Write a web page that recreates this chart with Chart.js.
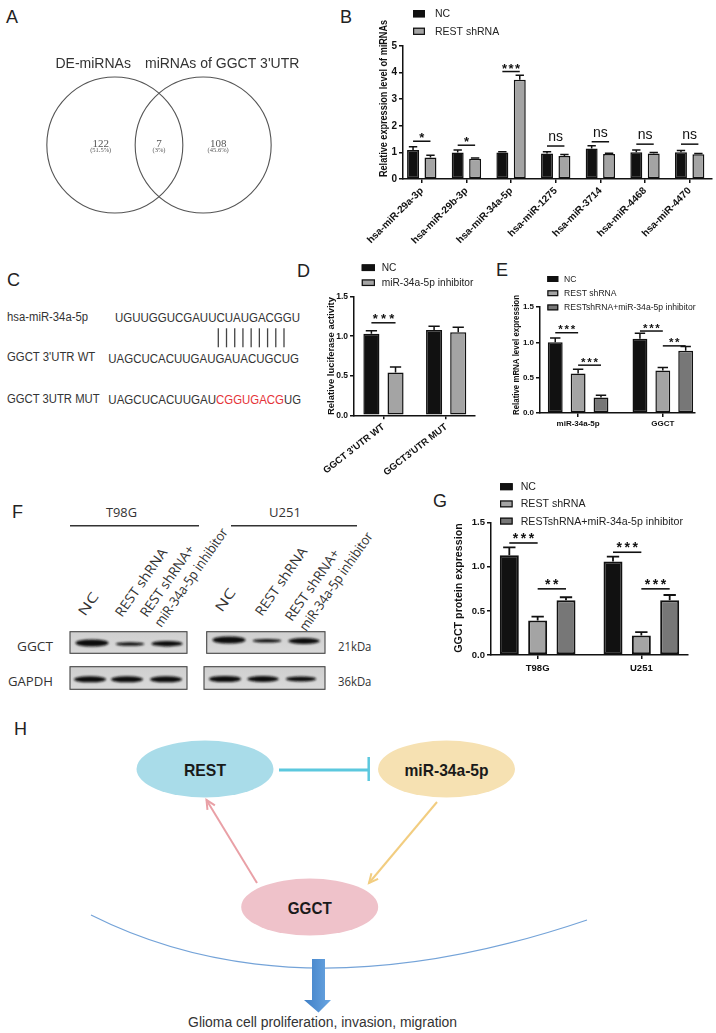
<!DOCTYPE html>
<html><head><meta charset="utf-8">
<script src="https://cdn.jsdelivr.net/npm/chart.js@4.4.1/dist/chart.umd.min.js"></script>
<style>
html,body{margin:0;padding:0;background:#fff}
#page{position:relative;width:716px;height:1033px;overflow:hidden;background:#fff}
canvas{position:absolute}
#ov{position:absolute;left:0;top:0}
</style></head><body>
<div id="page">
<svg id="ov" width="716" height="1033" xmlns="http://www.w3.org/2000/svg"></svg>
<canvas id="cA" width="318" height="210" style="left:0;top:40px"></canvas>
<canvas id="cB" width="376" height="260" style="left:340px;top:0"></canvas>
<canvas id="cD" width="190" height="230" style="left:290px;top:250px"></canvas>
<canvas id="cE" width="256" height="180" style="left:460px;top:250px"></canvas>
<canvas id="cG" width="356" height="220" style="left:360px;top:480px"></canvas>
</div>
<script>
// ================= DATA =================
// Panel A (Venn)
const vennSets = ["DE-miRNAs", "miRNAs of GGCT 3'UTR"];
const vennCounts = [122, 7, 108];
const vennPercents = ["(51.5%)", "(3%)", "(45.6%)"];

// Panel B
const miRNAs = ["hsa-miR-29a-3p","hsa-miR-29b-3p","hsa-miR-34a-5p","hsa-miR-1275","hsa-miR-3714","hsa-miR-4468","hsa-miR-4470"];
const seriesB = ["NC","REST shRNA"];
const ncExpr     = [1.09, 1.00, 1.00, 0.96, 1.15, 1.01, 1.01];
const ncExprErr  = [0.12, 0.09, 0.02, 0.06, 0.10, 0.08, 0.06];
const shExpr     = [0.81, 0.76, 3.73, 0.86, 0.94, 0.96, 0.93];
const shExprErr  = [0.08, 0.03, 0.17, 0.06, 0.03, 0.04, 0.03];
const sigExpr      = ["*","*","***","ns","ns","ns","ns"];
const sigExprLevel = [1.42, 1.27, 4.04, 1.24, 1.40, 1.31, 1.31];
const exprTicks = [0,1,2,3,4,5];

// Panel C
const seqNames = ["hsa-miR-34a-5p","GGCT 3'UTR WT","GGCT 3UTR MUT"];
const seqMiR = "UGUUGGUCGAUUCUAUGACGGU";
const seqWT  = "UAGCUCACUUGAUGAUACUGCUG";
const seqMUT = ["UAGCUCACUUGAU","CGGUGACG","UG"];
const pairCount = 9;

// Panel D
const lucGroups = ["GGCT 3'UTR WT","GGCT3'UTR MUT"];
const seriesD = ["NC","miR-34a-5p inhibitor"];
const lucNC = [1.03, 1.08];  const lucNCErr = [0.04, 0.045];
const lucInh = [0.54, 1.05]; const lucInhErr = [0.07, 0.065];
const sigLuc = [[0,0,1,1.17,"***"]];
const lucTicks = [0,0.5,1,1.5];

// Panel E
const mrnaGroups = ["miR-34a-5p","GGCT"];
const seriesE = ["NC","REST shRNA","RESTshRNA+miR-34a-5p inhibitor"];
const mrnaNC = [1.00, 1.05];   const mrnaNCErr = [0.06, 0.08];
const mrnaSh = [0.56, 0.60];   const mrnaShErr = [0.06, 0.045];
const mrnaCombo = [0.22, 0.88];const mrnaComboErr = [0.03, 0.06];
const sigMrna = [[0,0,1,1.136,"***"],[0,1,2,0.677,"***"],[1,0,1,1.16,"***"],[1,1,2,0.95,"**"]];
const mrnaTicks = [0,0.5,1,1.5];

// Panel F (western blot band intensities, relative)
const blotCells = ["T98G","U251"];
const blotLanes = ["NC","REST shRNA","REST shRNA+","miR-34a-5p inhibitor"];
const blotProteins = ["GGCT","GAPDH"];
const blotKDa = ["21kDa","36kDa"];
const ggctBand  = [[1.0, 0.5, 0.8],[1.0, 0.5, 0.85]];
const gapdhBand = [[0.9, 0.9, 0.9],[0.9, 0.85, 0.7]];

// Panel G
const protGroups = ["T98G","U251"];
const seriesG = ["NC","REST shRNA","RESTshRNA+miR-34a-5p inhibitor"];
const protNC = [1.13, 1.06];    const protNCErr = [0.09, 0.055];
const protSh = [0.39, 0.22];    const protShErr = [0.045, 0.04];
const protCombo = [0.62, 0.62]; const protComboErr = [0.035, 0.06];
const sigProt = [[0,0,1,1.27,"***"],[0,1,2,0.75,"**"],[1,0,1,1.165,"***"],[1,1,2,0.75,"***"]];
const protTicks = [0,0.5,1,1.5];

// Panel H
const hNodes = ["REST","miR-34a-5p","GGCT"];
const hOutcome = "Glioma cell proliferation, invasion, migration";

// ================= STYLE =================
const FONT = 'Arial, "Liberation Sans", Helvetica, sans-serif';
const C_NC = '#111111', C_SH = '#a4a4a4', C_CB = '#777777';

class PadCat extends Chart.CategoryScale {
  static id = 'padcat';
  static defaults = {};
  configure(){
    super.configure();
    const o = this.options;
    if (typeof o.padStart === 'number') {
      this._startValue = this.min - o.padStart;
      this._valueRange = (this.max - this.min) + o.padStart + o.padEnd;
    }
  }
}
Chart.register(PadCat);

function drawSig(ctx, txt, x, y, o){
  ctx.fillStyle = '#111';
  ctx.textAlign = 'center'; ctx.textBaseline = 'alphabetic';
  if (/^\*+$/.test(txt)) {
    ctx.font = `bold ${o.sfs}px ${FONT}`;
    const n = txt.length;
    for (let k=0;k<n;k++) ctx.fillText('*', x + (k-(n-1)/2)*o.ssp, y + o.sdy);
  } else {
    ctx.font = `${o.nfs}px ${FONT}`;
    ctx.fillText(txt, x, y + o.ndy);
  }
}

const annotPlugin = {
  id:'annot',
  afterDatasetsDraw(chart, args, o){
    const ctx = chart.ctx, ys = chart.scales.y;
    ctx.save();
    chart.data.datasets.forEach((ds,i)=>{
      const meta = chart.getDatasetMeta(i);
      meta.data.forEach((bar,j)=>{
        const v = ds.data[j], e = ds.err[j];
        const y0 = ys.getPixelForValue(v), y1 = ys.getPixelForValue(v+e);
        const hw = bar.width*o.cap/2;
        ctx.strokeStyle = '#111'; ctx.lineWidth = o.elw;
        ctx.beginPath();
        ctx.moveTo(bar.x, y0); ctx.lineTo(bar.x, y1);
        ctx.moveTo(bar.x-hw, y1); ctx.lineTo(bar.x+hw, y1);
        ctx.stroke();
      });
    });
    o.sig.forEach(s=>{
      const cat=s[0], a=s[1], b=s[2], val=s[3], txt=s[4];
      const xa = chart.getDatasetMeta(a).data[cat].x, xb = chart.getDatasetMeta(b).data[cat].x;
      const y = ys.getPixelForValue(val);
      ctx.strokeStyle = '#111'; ctx.lineWidth = o.slw;
      ctx.beginPath(); ctx.moveTo(xa, y); ctx.lineTo(xb, y); ctx.stroke();
      drawSig(ctx, txt, (xa+xb)/2, y, o);
    });
    const L = o.legend;
    ctx.font = `${L.fs}px ${FONT}`; ctx.textAlign='left'; ctx.textBaseline='middle';
    chart.data.datasets.forEach((ds,i)=>{
      const y = L.y + i*L.dy;
      ctx.fillStyle = ds.backgroundColor; ctx.fillRect(L.x, y-L.h/2, L.w, L.h);
      ctx.strokeStyle = '#111'; ctx.lineWidth = 1.2;
      ctx.strokeRect(L.x+0.6, y-L.h/2+0.6, L.w-1.2, L.h-1.2);
      ctx.fillStyle = '#222'; ctx.fillText(ds.label, L.tx, y+0.5);
    });
    const T = o.title;
    ctx.translate(T.x, T.y); ctx.rotate(-Math.PI/2);
    ctx.font = `bold ${T.fs}px ${FONT}`; ctx.fillStyle='#111';
    ctx.textAlign='center'; ctx.textBaseline='middle';
    ctx.fillText(T.text, 0, 0, T.len);
    ctx.restore();
  }
};

function barChart(id, cfg){
  const datasets = cfg.series.map(s=>({
    label:s.label, data:s.data, err:s.err, backgroundColor:s.color,
    borderColor:'#111', borderWidth:cfg.bw, borderSkipped:false,
    barPercentage:cfg.barPct, categoryPercentage:cfg.catPct
  }));
  return new Chart(document.getElementById(id), {
    type:'bar',
    data:{labels:cfg.labels, datasets},
    options:{
      responsive:false, animation:false, devicePixelRatio:1, events:[],
      layout:{padding:{left:0,right:cfg.pr,top:cfg.pt,bottom:0}},
      plugins:{legend:{display:false}, tooltip:{enabled:false}, annot:cfg.annot},
      scales:{
        x:{type:'padcat', padStart:cfg.ps, padEnd:cfg.pe,
           grid:{display:true, drawOnChartArea:false, drawTicks:true, tickLength:4, offset:false, color:'#111', lineWidth:1.5},
           border:{color:'#111', width:1.5},
           ticks:{color:'#111', font:{family:FONT, size:cfg.xfs, weight:'bold'}, minRotation:cfg.rot, maxRotation:cfg.rot, padding:cfg.xpad, autoSkip:false},
           afterFit(s){ s.height = cfg.xh; }},
        y:{min:0, max:cfg.ymax,
           afterBuildTicks(s){ s.ticks = cfg.yticks.map(v=>({value:v})); },
           ticks:{color:'#111', font:{family:FONT, size:cfg.yfs, weight:'bold'}, padding:2, callback:(v)=>cfg.yfmt(v)},
           grid:{display:true, drawOnChartArea:false, drawTicks:true, tickLength:4, color:'#111', lineWidth:1.5},
           border:{color:'#111', width:1.5},
           afterFit(s){ s.width = cfg.yw; }}
      }
    },
    plugins:[annotPlugin]
  });
}

barChart('cB', {
  labels:miRNAs,
  series:[{label:seriesB[0], data:ncExpr, err:ncExprErr, color:C_NC},
          {label:seriesB[1], data:shExpr, err:shExprErr, color:C_SH}],
  bw:1.5, barPct:0.686, catPct:0.78, pr:4, pt:46, yw:63, xh:81, ps:0.42, pe:0.5,
  rot:45, xfs:10, xpad:2, yfs:10, ymax:5, yticks:exprTicks, yfmt:v=>String(v),
  annot:{cap:0.7, elw:1.5, slw:1.5,
    sig: sigExpr.map((t,i)=>[i,0,1,sigExprLevel[i],t]),
    sfs:13, ssp:6.5, sdy:1, nfs:14, ndy:-5,
    legend:{x:73, y:13.7, dy:17.6, w:12, h:7.3, tx:95, fs:10.5},
    title:{text:"Relative expression level of miRNAs", x:44, y:98.5, len:157, fs:10.5}}
});

barChart('cD', {
  labels:lucGroups,
  series:[{label:seriesD[0], data:lucNC, err:lucNCErr, color:C_NC},
          {label:seriesD[1], data:lucInh, err:lucInhErr, color:C_SH}],
  bw:1.5, barPct:0.667, catPct:0.77, pr:5, pt:46.7, yw:64, xh:64.7, ps:0.47, pe:0.46,
  rot:38, xfs:9.5, xpad:2, yfs:8.5, ymax:1.5, yticks:lucTicks, yfmt:v=>v.toFixed(1),
  annot:{cap:0.7, elw:1.5, slw:1.5, sig:sigLuc,
    sfs:13, ssp:8.3, sdy:0, nfs:13, ndy:-5,
    legend:{x:71.7, y:17.7, dy:15, w:13.3, h:6.7, tx:91.7, fs:10.2},
    title:{text:"Relative luciferase activity", x:41.7, y:106, len:118, fs:9.5}}
});

barChart('cE', {
  labels:mrnaGroups,
  series:[{label:seriesE[0], data:mrnaNC, err:mrnaNCErr, color:C_NC},
          {label:seriesE[1], data:mrnaSh, err:mrnaShErr, color:C_SH},
          {label:seriesE[2], data:mrnaCombo, err:mrnaComboErr, color:C_CB}],
  bw:1.5, barPct:0.65, catPct:0.81, pr:21, pt:57, yw:80, xh:17, ps:0.45, pe:0.38,
  rot:0, xfs:8, xpad:2, yfs:8, ymax:1.5, yticks:mrnaTicks, yfmt:v=>v.toFixed(1),
  annot:{cap:0.7, elw:1.5, slw:1.5, sig:sigMrna,
    sfs:11.5, ssp:6.2, sdy:0.5, nfs:12, ndy:-5,
    legend:{x:87.3, y:29, dy:14.2, w:11, h:6, tx:104, fs:8.6},
    title:{text:"Relative mRNA level expression", x:57, y:105, len:120, fs:8.5}}
});

barChart('cG', {
  labels:protGroups,
  series:[{label:seriesG[0], data:protNC, err:protNCErr, color:C_NC},
          {label:seriesG[1], data:protSh, err:protShErr, color:C_SH},
          {label:seriesG[2], data:protCombo, err:protComboErr, color:C_CB}],
  bw:2, barPct:0.67, catPct:0.82, pr:28, pt:42.7, yw:131, xh:45, ps:0.45, pe:0.45,
  rot:0, xfs:9.5, xpad:4, yfs:9.5, ymax:1.5, yticks:protTicks, yfmt:v=>v.toFixed(1),
  annot:{cap:0.65, elw:1.8, slw:1.6, sig:sigProt,
    sfs:14, ssp:8, sdy:0, nfs:13, ndy:-5,
    legend:{x:140, y:6.7, dy:17.2, w:12.7, h:7, tx:160.7, fs:10.6},
    title:{text:"GGCT protein expression", x:99.3, y:108, len:130, fs:10.7}}
});

// ---------- Panel A (Venn) ----------
const vennRegionX = [-0.66, 0, 0.67];
const vennSetX = [-0.745, 0.715];
const vennPlugin = {
  id:'venn',
  afterDatasetsDraw(chart){
    const ctx = chart.ctx, xs = chart.scales.x, ys = chart.scales.y;
    const cy = ys.getPixelForValue(0);
    ctx.save();
    ctx.textAlign='center'; ctx.textBaseline='alphabetic';
    ctx.fillStyle='#333'; ctx.font = `14px ${FONT}`;
    vennSets.forEach((s,i)=> ctx.fillText(s, xs.getPixelForValue(vennSetX[i]), cy-77));
    ctx.fillStyle='#555';
    vennCounts.forEach((c,i)=>{
      const x = xs.getPixelForValue(vennRegionX[i]);
      ctx.font = `11px "Liberation Serif", "Times New Roman", serif`;
      ctx.fillText(String(c), x, cy+1.5);
      ctx.font = `6.5px "Liberation Serif", "Times New Roman", serif`;
      ctx.fillText(vennPercents[i], x, cy+6.5);
    });
    ctx.restore();
  }
};
new Chart(document.getElementById('cA'), {
  type:'scatter',
  data:{datasets:[{data:[{x:-0.5,y:0},{x:0.5,y:0}], pointRadius:68, pointHoverRadius:68,
    pointBackgroundColor:'rgba(0,0,0,0)', pointBorderColor:'#555', pointBorderWidth:1.1, clip:false}]},
  options:{responsive:false, animation:false, devicePixelRatio:1, events:[],
    layout:{padding:0, autoPadding:false},
    plugins:{legend:{display:false}, tooltip:{enabled:false}},
    scales:{x:{display:false,min:-1.8,max:1.8}, y:{display:false,min:-1,max:1}}},
  plugins:[vennPlugin]
});

// ================= SVG overlay (labels, C, F, H) =================
const svg = document.getElementById('ov');
const NS = 'http://www.w3.org/2000/svg';
function el(tag, attrs, parent, text){
  const e = document.createElementNS(NS, tag);
  for (const k in attrs) e.setAttribute(k, attrs[k]);
  if (text != null) e.textContent = text;
  (parent||svg).appendChild(e); return e;
}
const defs = el('defs',{});
const blur = el('filter',{id:'bl', x:'-20%', y:'-100%', width:'140%', height:'300%'}, defs);
el('feGaussianBlur',{stdDeviation:'0.8'}, blur);
const gBox = el('linearGradient',{id:'gbox', x1:0,y1:0,x2:0,y2:1}, defs);
el('stop',{offset:'0', 'stop-color':'#cfcfcf'}, gBox);
el('stop',{offset:'1', 'stop-color':'#d9d9d9'}, gBox);
const gArr = el('linearGradient',{id:'garr', x1:0,y1:0,x2:1,y2:0}, defs);
el('stop',{offset:'0', 'stop-color':'#3f7fc6'}, gArr);
el('stop',{offset:'1', 'stop-color':'#6aa6e2'}, gArr);

const panelLetters = ["A","B","C","D","E","F","G","H"];
const letterPos = [[6,23],[340,23],[7,286],[297,277],[496,276],[12,518],[433,507],[14,735]];
panelLetters.forEach((L,i)=> el('text',{x:letterPos[i][0], y:letterPos[i][1], 'font-family':FONT, 'font-size':18, fill:'#222'}, svg, L));

// ---- Panel C ----
const cFont = {'font-family':FONT, 'font-size':12, fill:'#333'};
const nameY = [321, 361, 402.5], nameLen = [81, 88.3, 92.6];
seqNames.forEach((n,i)=> el('text', Object.assign({x:7, y:nameY[i], textLength:nameLen[i], lengthAdjust:'spacingAndGlyphs'}, cFont), svg, n));
el('text', Object.assign({x:115, y:321.5, textLength:185, lengthAdjust:'spacingAndGlyphs'}, cFont), svg, seqMiR);
el('text', Object.assign({x:108.3, y:362.6, textLength:190.7, lengthAdjust:'spacingAndGlyphs'}, cFont), svg, seqWT);
const mutX = [108.3, 216, 284], mutLen = [107.7, 68, 17];
seqMUT.forEach((s,i)=> el('text', Object.assign({x:mutX[i], y:404.3, textLength:mutLen[i], lengthAdjust:'spacingAndGlyphs'}, cFont, i===1?{fill:'#e53238'}:{}), svg, s));
for (let k=0;k<pairCount;k++){
  const x = 218.3 + k*(284-218.3)/(pairCount-1);
  el('line',{x1:x, y1:328.3, x2:x, y2:347.3, stroke:'#444', 'stroke-width':1.3});
}

// ---- Panel F (western blot) ----
const fFont = {'font-family':'"Open Sans", Arial, sans-serif', 'font-size':13.5, fill:'#333'};
const cellTitle = [[121.5, 517, 31],[285, 517, 32]];
const cellLine = [[70,199],[231,357]];
blotCells.forEach((c,i)=>{
  el('text', Object.assign({x:cellTitle[i][0], y:cellTitle[i][1], 'text-anchor':'middle', textLength:cellTitle[i][2], lengthAdjust:'spacingAndGlyphs'}, fFont), svg, c);
  el('line',{x1:cellLine[i][0], y1:525.7, x2:cellLine[i][1], y2:525.7, stroke:'#333', 'stroke-width':1.4});
});
const laneAnchors = [[[85,617],[122,618],[147,618]],[[222,613],[262,617],[292,622]]];
const laneLen = [25, 80, 84, 117];
blotCells.forEach((c,i)=>{
  laneAnchors[i].forEach((p,j)=>{
    const g = el('g',{transform:`translate(${p[0]},${p[1]}) rotate(-55)`});
    el('text', Object.assign({x:0, y:0, textLength:laneLen[j], lengthAdjust:'spacingAndGlyphs'}, fFont), g, blotLanes[j]);
    if (j===2) el('text', Object.assign({x:0, y:17.5, textLength:laneLen[3], lengthAdjust:'spacingAndGlyphs'}, fFont), g, blotLanes[3]);
  });
});
const boxX = [[[70,187],[206.7,325]],[[70,187],[204,325]]];
const boxY = [[631.7,653.3],[666.7,689.3]];
const laneX = [[[92,130,167],[229,267,304]],[[90,127,166],[225,263,301]]];
const bandY = [[[643,644,643.7],[640,640.7,641]],[[679.3,679.3,679.3],[679,679,679]]];
const bandSets = [ggctBand, gapdhBand];
const protY = [650.7, 686], protLen = [36, 45];
blotProteins.forEach((p,r)=>{
  el('text', Object.assign({x:53, y:protY[r], 'text-anchor':'end', textLength:protLen[r], lengthAdjust:'spacingAndGlyphs'}, fFont), svg, p);
  el('text', Object.assign({x:338, y:protY[r], textLength:33.4, lengthAdjust:'spacingAndGlyphs'}, fFont), svg, blotKDa[r]);
  blotCells.forEach((c,i)=>{
    const bx = boxX[r][i], by = boxY[r];
    el('rect',{x:bx[0], y:by[0], width:bx[1]-bx[0], height:by[1]-by[0], fill:'url(#gbox)', stroke:'#444', 'stroke-width':1.1});
    bandSets[r][i].forEach((v,j)=>{
      const w = 24 + 9*v, h = 6.8*v, cx = laneX[r][i][j], cy = bandY[r][i][j];
      el('rect',{x:cx-w/2, y:cy-h/2, width:w, height:h, rx:w/2.2, ry:h/2, fill:'#111', filter:'url(#bl)'});
    });
  });
});

// ---- Panel H (diagram) ----
const hNode = [[205,769,'#a9dce9'],[446.5,769,'#f6e1b2'],[309.7,907,'#efc2ca']];
const hLen = [42, 84, 44];
const hFont = {'font-family':'"Liberation Sans Narrow", "Arial Narrow", Arial, sans-serif', 'font-weight':'bold', 'font-size':17, fill:'#1a1a1a', 'text-anchor':'middle', lengthAdjust:'spacingAndGlyphs'};
hNodes.forEach((n,i)=>{
  el('ellipse',{cx:hNode[i][0], cy:hNode[i][1], rx:68.5, ry:28.5, fill:hNode[i][2]});
  el('text', Object.assign({x:hNode[i][0], y:hNode[i][1]+7, textLength:hLen[i]}, hFont), svg, n);
});
el('line',{x1:279, y1:770, x2:368.7, y2:770, stroke:'#5cc8de', 'stroke-width':3});
el('line',{x1:368.7, y1:757, x2:368.7, y2:781, stroke:'#5cc8de', 'stroke-width':2.5});
function arrow(x1,y1,x2,y2,col){
  el('line',{x1,y1,x2,y2,stroke:col,'stroke-width':2});
  const a = Math.atan2(y2-y1,x2-x1), L=10, s=0.45;
  el('polyline',{points:`${x2-L*Math.cos(a-s)},${y2-L*Math.sin(a-s)} ${x2},${y2} ${x2-L*Math.cos(a+s)},${y2-L*Math.sin(a+s)}`, fill:'none', stroke:col, 'stroke-width':2});
}
arrow(437,802,369,883,'#f2cd80');
arrow(257,883,206.5,800,'#e9a0a6');
el('path',{d:'M 91 915 Q 297 1018.5 587 920', fill:'none', stroke:'#74a3d8', 'stroke-width':1.2});
el('path',{d:'M 312 959 L 325 959 L 325 1000 L 331 1000 L 318.5 1012.6 L 304 1000 L 312 1000 Z', fill:'url(#garr)'});
el('text',{x:322.6, y:1027, 'text-anchor':'middle', 'font-family':'"Liberation Sans Narrow", "Arial Narrow", Arial, sans-serif', 'font-size':14, fill:'#333', textLength:269, lengthAdjust:'spacingAndGlyphs'}, svg, hOutcome);
</script>
</body></html>
